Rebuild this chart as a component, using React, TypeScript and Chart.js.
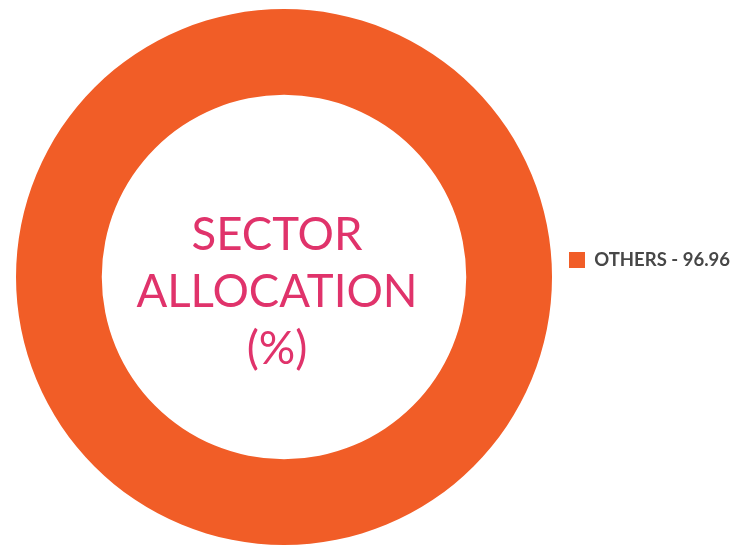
import React, { useEffect, useRef } from "react";
import { Chart, registerables } from "chart.js";

Chart.register(...registerables);

const categories: string[] = ["OTHERS"];
const values: number[] = [96.96];
const colors: string[] = ["#f15d27"];
const centerLines: string[] = ["SECTOR", "ALLOCATION", "(%)"];

const centerTextPlugin = {
  id: "centerText",
  afterLayout(chart: any) {
    const lg = chart.legend;
    if (lg) {
      lg.top -= 17;
      lg.bottom -= 17;
      lg.left -= 9;
      lg.right -= 9;
    }
  },
  afterDraw(chart: any) {
    const meta = chart.getDatasetMeta(0);
    if (!meta || !meta.data.length) return;
    const arc = meta.data[0];
    const { ctx } = chart;
    ctx.save();
    ctx.fillStyle = "#e0336b";
    ctx.font = "400 45.5px Lato";
    ctx.textAlign = "center";
    ctx.textBaseline = "alphabetic";
    const cx = arc.x - 7;
    const cy = arc.y;
    const lh = 57;
    const base = cy - 27;
    centerLines.forEach((l, i) => ctx.fillText(l, cx, base + i * lh));
    ctx.restore();
  },
};

export default function App() {
  const ref = useRef<HTMLCanvasElement | null>(null);
  useEffect(() => {
    document.body.style.margin = "0";
    const chart = new Chart(ref.current!, {
      type: "doughnut",
      data: {
        labels: categories,
        datasets: [
          {
            data: values,
            backgroundColor: colors,
            borderWidth: 0,
          },
        ],
      },
      options: {
        animation: false,
        responsive: false,
        cutout: "68%",
        layout: { padding: { top: 9, bottom: 9, left: 0, right: 0 } },
        plugins: {
          tooltip: { enabled: false },
          legend: {
            position: "right",
            labels: {
              boxWidth: 16,
              boxHeight: 16,
              padding: 10,
              color: "#474747",
              font: { family: "Lato", size: 18.5, weight: "bold" },
              generateLabels: () =>
                categories.map((c, i) => ({
                  text: `${c} - ${values[i].toFixed(2)}`,
                  fillStyle: colors[i],
                  strokeStyle: colors[i],
                  lineWidth: 0,
                  hidden: false,
                  index: i,
                  fontColor: "#474747",
                })),
            },
          },
        },
      },
      plugins: [centerTextPlugin],
    });
    return () => chart.destroy();
  }, []);
  return (
    <div style={{ width: 749, height: 554 }}>
      <canvas ref={ref} width={749} height={554} />
    </div>
  );
}
